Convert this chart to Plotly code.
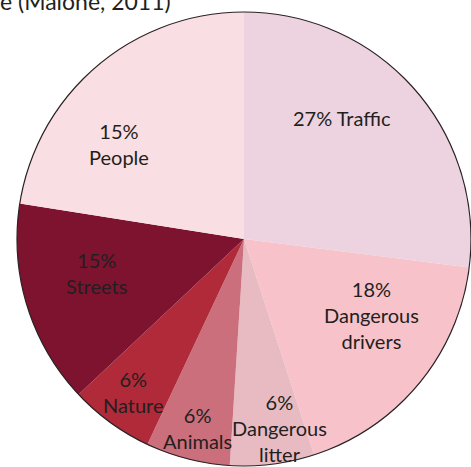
import plotly.graph_objects as go

# ---- data ----
categories = ["Traffic", "Dangerous drivers", "Dangerous litter", "Animals", "Nature", "Streets", "People"]
label_text = ["27% Traffic", "18%<br>Dangerous<br>drivers", "6%<br>Dangerous<br>litter",
              "6%<br>Animals", "6%<br>Nature", "15%<br>Streets", "15%<br>People"]
# slice sizes as drawn in the picture (degrees of arc / 3.6)
slice_values = [27, 18, 6, 6, 6, 14.5, 22.5]
title_text = "e (Malone, 2011)"

# ---- styles ----
colors = ["#EDD3DF", "#F7C2CA", "#E8BBC3", "#CB6F7C", "#B12A3A", "#7E1330", "#F9DEE3"]
W, H = 471, 467
# pie bounding box in pixels (left, top, right, bottom)
PIE_BOX = (17, 12, 471, 466)
# label centres in pixels
label_pos = [(342, 118), (371, 315), (279, 428), (197, 428), (133, 392), (96, 273), (119, 144)]
FONT = "Lato"
TEXT_COLOR = "#231f20"

x0, x1 = PIE_BOX[0] / W, PIE_BOX[2] / W
y0, y1 = 1 - PIE_BOX[3] / H, 1 - PIE_BOX[1] / H

fig = go.Figure(go.Pie(
    labels=categories,
    values=slice_values,
    sort=False,
    direction="clockwise",
    rotation=0,
    marker=dict(colors=colors, line=dict(width=0)),
    textinfo="none",
    hoverinfo="none",
    showlegend=False,
    domain=dict(x=[x0, x1], y=[y0, y1]),
))

annotations = []
for txt, (px, py) in zip(label_text, label_pos):
    annotations.append(dict(
        x=px / W, y=1 - py / H, xref="paper", yref="paper",
        text=txt, showarrow=False, xanchor="center", yanchor="middle",
        font=dict(family=FONT, size=20, color=TEXT_COLOR), align="center",
    ))
annotations.append(dict(
    x=-2 / W, y=1, xref="paper", yref="paper", xanchor="left", yanchor="bottom",
    yshift=-17, text=title_text, showarrow=False,
    font=dict(family=FONT, size=23, color=TEXT_COLOR),
))

fig.update_layout(
    width=W, height=H,
    margin=dict(l=0, r=0, t=0, b=0),
    paper_bgcolor="white", plot_bgcolor="white",
    annotations=annotations,
    shapes=[dict(type="circle", xref="paper", yref="paper",
                 x0=x0, x1=x1, y0=y0, y1=y1,
                 line=dict(color="#2a2224", width=1.2), layer="above")],
)

fig.write_html(
    "out.html",
    config={"displayModeBar": False},
    post_script="document.body.style.margin='0';document.body.style.overflow='hidden';",
)
